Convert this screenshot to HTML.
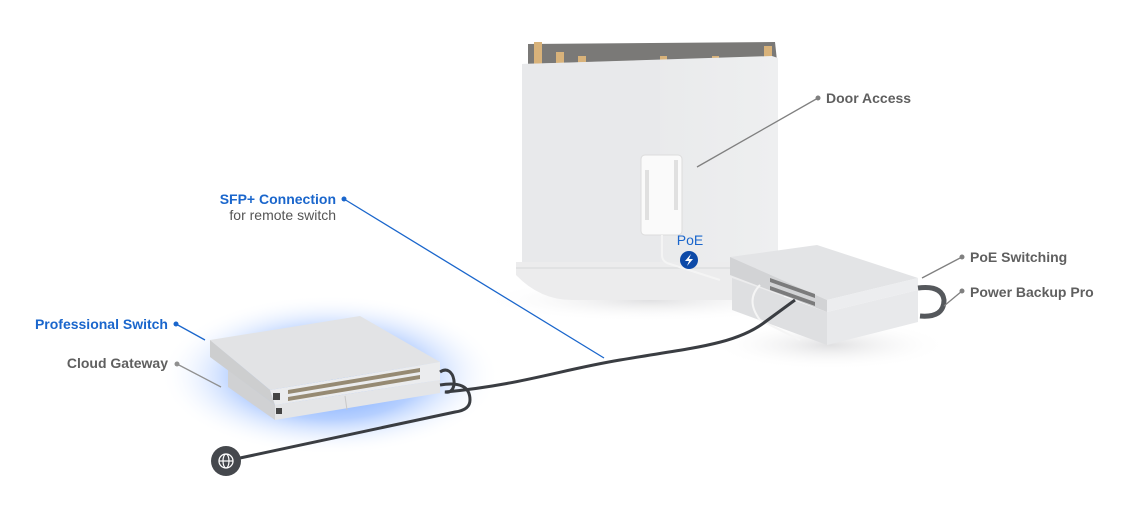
<!DOCTYPE html>
<html><head><meta charset="utf-8"><style>
html,body{margin:0;padding:0;background:#fff;}
svg{display:block;font-family:"Liberation Sans",sans-serif;}
</style></head><body>
<svg width="1134" height="508" viewBox="0 0 1134 508" xmlns="http://www.w3.org/2000/svg">
<defs>
<radialGradient id="glow" cx="50%" cy="50%" r="50%">
<stop offset="0" stop-color="#3f83ff" stop-opacity="0.9"/>
<stop offset="0.55" stop-color="#6b9fff" stop-opacity="0.5"/>
<stop offset="1" stop-color="#ffffff" stop-opacity="0"/>
</radialGradient>
<radialGradient id="shadow" cx="50%" cy="50%" r="50%">
<stop offset="0" stop-color="#d8d8da" stop-opacity="0.8"/>
<stop offset="1" stop-color="#ffffff" stop-opacity="0"/>
</radialGradient>
<linearGradient id="wall" x1="0" y1="0" x2="1" y2="0">
<stop offset="0" stop-color="#e4e5e7"/><stop offset="1" stop-color="#eeeff0"/>
</linearGradient>
</defs>
<rect width="1134" height="508" fill="#fff"/>
<ellipse cx="650" cy="300" rx="170" ry="22" fill="url(#shadow)"/>
<ellipse cx="830" cy="345" rx="120" ry="25" fill="url(#shadow)"/>
<ellipse cx="330" cy="375" rx="170" ry="80" fill="url(#glow)"/>
<!-- wall -->
<polygon points="528,44 775,42 778,70 528,74" fill="#7a7977"/>
<rect x="534" y="42" width="8" height="30" fill="#d8b27a"/>
<rect x="556" y="52" width="8" height="20" fill="#d8b27a"/>
<rect x="578" y="56" width="8" height="16" fill="#d8b27a"/>
<rect x="660" y="56" width="7" height="14" fill="#d8b27a"/>
<rect x="712" y="56" width="7" height="12" fill="#d8b27a"/>
<rect x="764" y="46" width="8" height="20" fill="#d8b27a"/>
<polygon points="522,64 772,56 778,58 778,262 522,262" fill="url(#wall)"/>
<polygon points="522,64 660,60 660,262 522,262" fill="#e8e9eb"/>
<path d="M516,262 L790,262 L790,282 Q790,300 770,300 L572,300 Q540,300 516,275 Z" fill="#ececed"/>
<line x1="516" y1="268" x2="790" y2="268" stroke="#d6d7d9" stroke-width="1"/>
<!-- door access -->
<rect x="641" y="155" width="41" height="80" rx="4" fill="#fafafa" stroke="#dcdcdc"/>
<rect x="645" y="170" width="4" height="50" fill="#e0e0e0"/>
<rect x="674" y="160" width="4" height="50" fill="#e0e0e0"/>
<path d="M662,235 L662,255 Q662,262 670,264 L720,280" fill="none" stroke="#f4f4f4" stroke-width="2"/>
<text x="690" y="245" font-size="14" fill="#1a66cc" text-anchor="middle">PoE</text>
<circle cx="689" cy="260" r="9" fill="#0d4aa8"/>
<path d="M691,254 L685,261 L689,261 L687,266 L693,259 L689,259 Z" fill="#fff"/>
<!-- PoE switch + backup -->
<polygon points="732,278 827,312 827,345 732,310" fill="#dedfe1"/>
<polygon points="827,312 918,290 918,322 827,345" fill="#e8e9eb"/>
<polygon points="730,257 817,245 918,278 827,300" fill="#e3e4e6"/>
<polygon points="730,257 827,300 827,312 730,275" fill="#d2d3d5"/>
<polygon points="827,300 918,278 918,290 827,312" fill="#ecedef"/>
<g fill="#555">
<polygon points="770,278 815,294 815,298 770,282" opacity=".7"/>
<polygon points="770,286 815,302 815,306 770,290" opacity=".7"/>
</g>
<path d="M918,288 Q942,285 944,300 Q944,318 920,316" fill="none" stroke="#55585c" stroke-width="5"/>
<path d="M760,285 Q745,300 760,320 L800,340" fill="none" stroke="#f5f5f5" stroke-width="2"/>
<!-- Professional switch + gateway -->
<polygon points="228,370 275,405 275,420 228,387" fill="#d0d1d3"/>
<polygon points="275,405 440,380 440,393 275,420" fill="#e4e5e7"/>
<polygon points="210,340 360,316 440,362 270,390" fill="#e2e3e5"/>
<polygon points="210,340 270,390 275,405 210,357" fill="#cdcecf"/>
<polygon points="270,390 440,362 440,380 275,405" fill="#ebecee"/>
<g fill="#7a6a4a" opacity=".75">
<polygon points="288,390 420,368 420,372 288,394"/>
<polygon points="288,397 420,375 420,379 288,401"/>
</g>
<rect x="273" y="393" width="7" height="7" fill="#444"/>
<rect x="276" y="408" width="6" height="6" fill="#444"/>
<line x1="345" y1="396" x2="347" y2="410" stroke="#c8c8c8"/>
<!-- cables -->
<path d="M440,372 C455,362 460,395 445,392 C520,385 560,370 620,360 C690,348 735,345 765,322 L795,300" fill="none" stroke="#3a3d42" stroke-width="3"/>
<path d="M440,385 Q470,380 470,400 Q470,410 455,412 L240,458" fill="none" stroke="#3a3d42" stroke-width="3"/>
<circle cx="226" cy="461" r="15" fill="#45484d"/>
<circle cx="226" cy="461" r="7" fill="none" stroke="#fff" stroke-width="1.3"/>
<ellipse cx="226" cy="461" rx="3" ry="7" fill="none" stroke="#fff" stroke-width="1.2"/>
<line x1="219" y1="461" x2="233" y2="461" stroke="#fff" stroke-width="1.2"/>
<g stroke-width="1.3" fill="none">
<line x1="818" y1="98" x2="697" y2="167" stroke="#808080"/>
<line x1="962" y1="257" x2="922" y2="278" stroke="#808080"/>
<line x1="962" y1="291" x2="944" y2="306" stroke="#808080"/>
<line x1="344" y1="199" x2="604" y2="358" stroke="#1a66cc"/>
<line x1="176" y1="324" x2="205" y2="340" stroke="#1a66cc"/>
<line x1="177" y1="364" x2="221" y2="387" stroke="#909090"/>
</g>
<g>
<circle cx="818" cy="98" r="2.5" fill="#808080"/>
<circle cx="962" cy="257" r="2.5" fill="#808080"/>
<circle cx="962" cy="291" r="2.5" fill="#808080"/>
<circle cx="344" cy="199" r="2.5" fill="#1a66cc"/>
<circle cx="176" cy="324" r="2.5" fill="#1a66cc"/>
<circle cx="177" cy="364" r="2.5" fill="#909090"/>
</g>
<g font-size="14">
<text x="826" y="103" fill="#444" font-weight="bold" opacity=".85">Door Access</text>
<text x="970" y="262" fill="#444" font-weight="bold" opacity=".85">PoE Switching</text>
<text x="970" y="297" fill="#444" font-weight="bold" opacity=".85">Power Backup Pro</text>
<text x="336" y="204" fill="#1a66cc" font-weight="bold" text-anchor="end">SFP+ Connection</text>
<text x="336" y="220" fill="#555" text-anchor="end">for remote switch</text>
<text x="168" y="329" fill="#1a66cc" font-weight="bold" text-anchor="end">Professional Switch</text>
<text x="168" y="368" fill="#444" font-weight="bold" opacity=".85" text-anchor="end">Cloud Gateway</text>
</g>
</svg>
</body></html>
